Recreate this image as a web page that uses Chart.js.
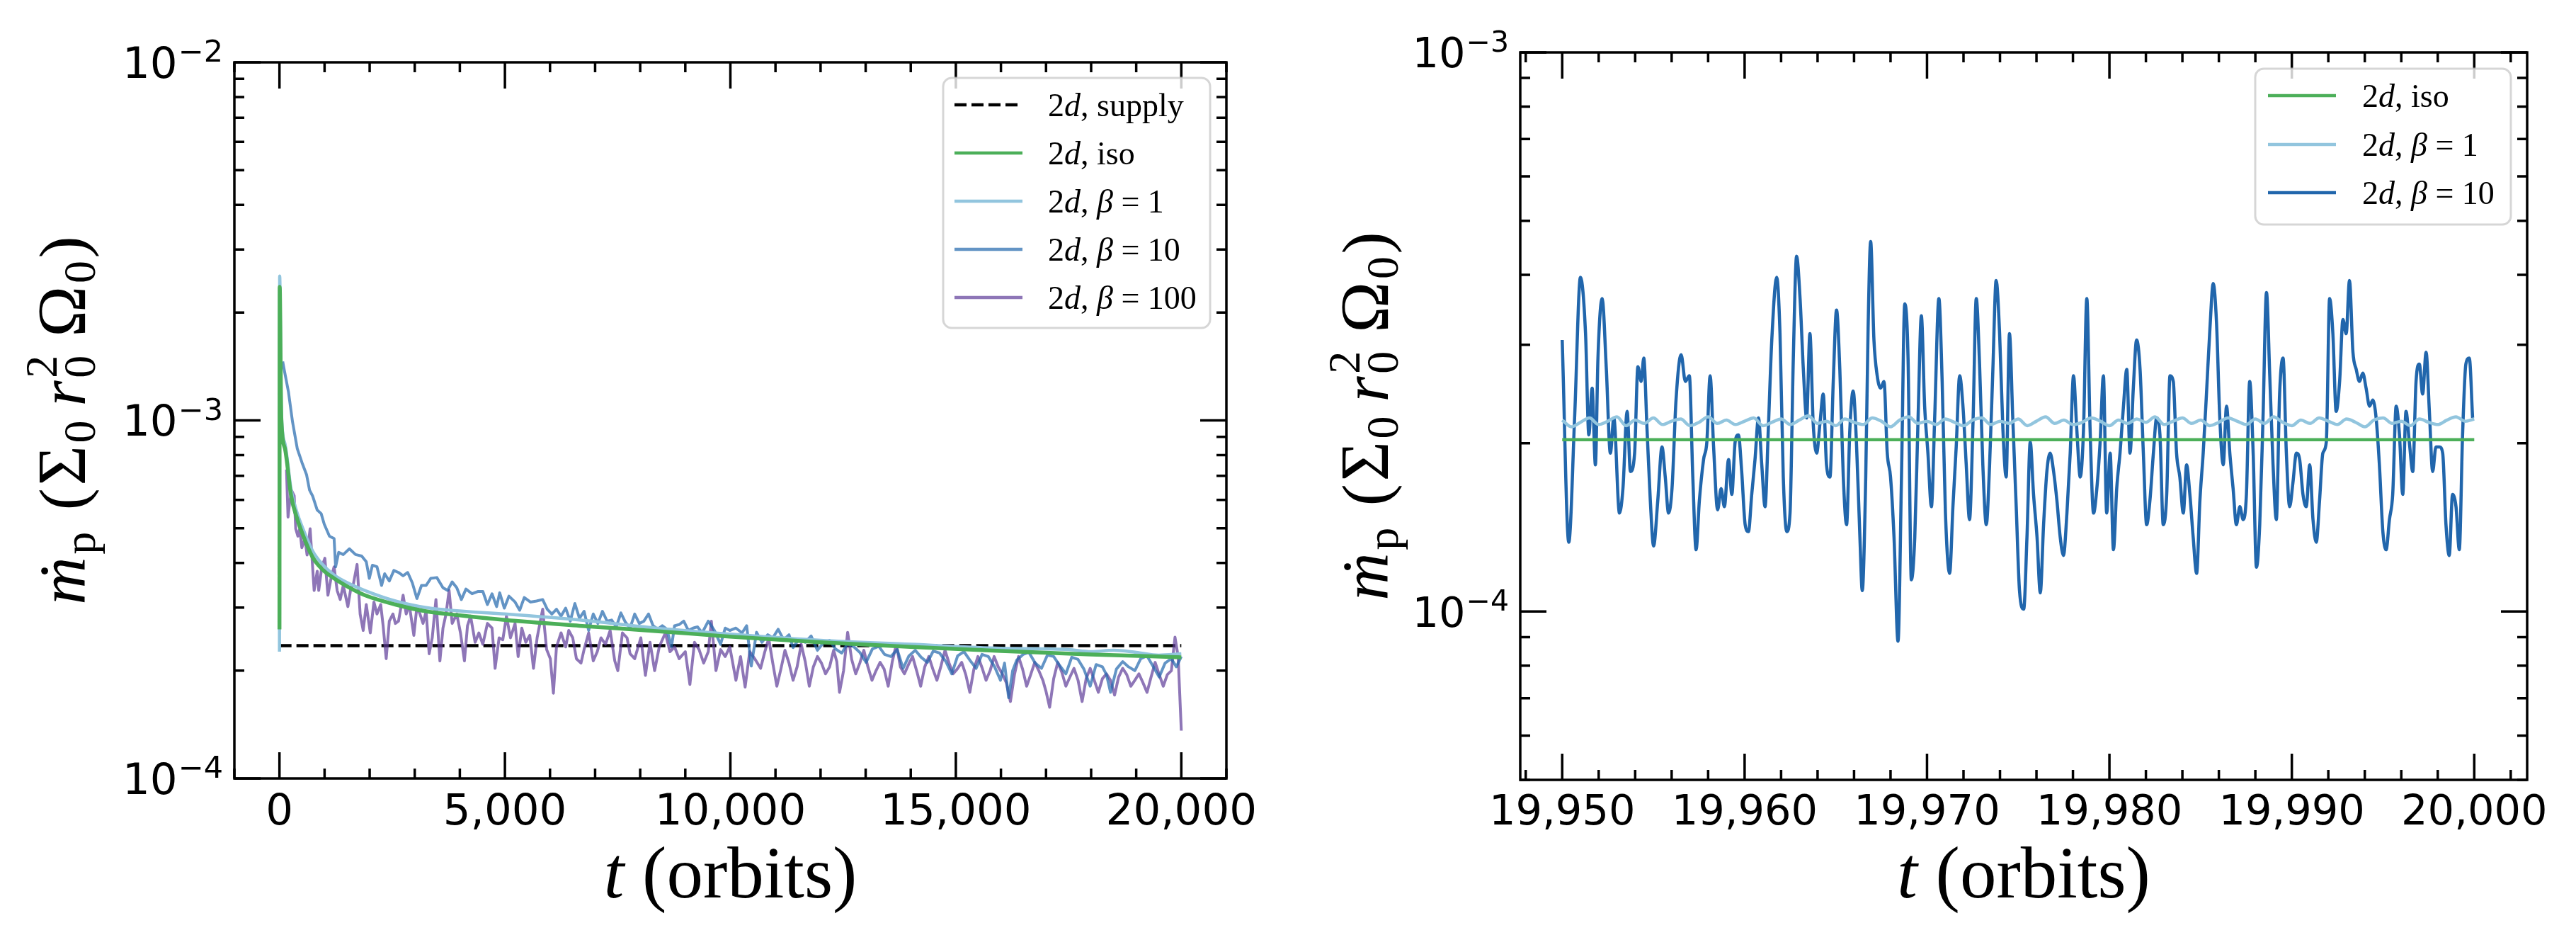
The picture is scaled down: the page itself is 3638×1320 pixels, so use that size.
<!DOCTYPE html>
<html>
<head>
<meta charset="utf-8">
<script src="https://cdn.jsdelivr.net/npm/chart.js@4.4.1/dist/chart.umd.min.js"></script>
<style>
  html, body { margin: 0; padding: 0; background: #fff; }
  #wrap { position: relative; width: 3638px; height: 1320px; }
  canvas { position: absolute; top: 0; }
  #left { left: 0; }
  #right { left: 1819px; }
</style>
</head>
<body>
<div id="wrap">
  <canvas id="left" width="1819" height="1320"></canvas>
  <canvas id="right" width="1819" height="1320"></canvas>
</div>
<script>
// values are in units of 1e-4 (Sigma_0 r_0^2 Omega_0)
var UNIT = 1e-4;

// ---------- left panel: full run ----------
var tSupply = [0, 20000];
var supplyE4 = [2.35, 2.35];

var tIso = [0, 5, 40, 122, 259, 395, 530, 735, 939, 1211, 1551, 1891, 2571, 3252, 3932, 5000, 6653, 8354, 9987, 12000, 14000, 16000, 18000, 20000];
var isoE4 = [2.61, 23.6, 10.2, 8.34, 6.15, 5.30, 4.75, 4.15, 3.85, 3.62, 3.41, 3.25, 3.06, 2.93, 2.86, 2.77, 2.67, 2.58, 2.49, 2.40, 2.33, 2.27, 2.22, 2.18];

var tBeta1 = [0, 5, 40, 122, 259, 395, 530, 735, 939, 1211, 1551, 1891, 2571, 3252, 3932, 5000, 6653, 8354, 9987, 12000, 14000, 16000, 17500, 18000, 18500, 19000, 19500, 20000];
var beta1E4 = [2.26, 25.3, 10.6, 8.6, 6.4, 5.5, 4.95, 4.32, 3.98, 3.70, 3.50, 3.35, 3.13, 3.00, 2.94, 2.88, 2.77, 2.63, 2.53, 2.43, 2.37, 2.31, 2.29, 2.26, 2.28, 2.25, 2.21, 2.23];

var tBeta10 = [72, 108, 200, 290, 395, 500, 600, 667, 735, 837, 925, 993, 1109, 1211, 1245, 1313, 1415, 1551, 1687, 1823,
  1925, 1993, 2061, 2163, 2265, 2333, 2436, 2537, 2640, 2742, 2844, 2946, 3048, 3150, 3252, 3354, 3490, 3626, 3728, 3830,
  3932, 4034, 4136, 4272, 4408, 4510, 4612, 4714, 4816, 4884, 4987, 5089, 5225, 5327, 5429, 5565, 5701, 5837, 5939, 6041,
  6143, 6245, 6347, 6449, 6551, 6653, 6755, 6857, 6959, 7061, 7163, 7265, 7367, 7469, 7571, 7673, 7775, 7878, 7980, 8082,
  8184, 8286, 8388, 8490, 8592, 8694, 8762, 8864, 8966, 9068, 9170, 9272, 9374, 9510, 9646, 9783, 9885, 9987, 10123, 10259,
  10361, 10463, 10580, 10700, 10830, 10940, 11060, 11180, 11300, 11390, 11520, 11660, 11790, 11930, 12060, 12200, 12330, 12470, 12600, 12740,
  12870, 13010, 13150, 13290, 13420, 13560, 13700, 13830, 13960, 14100, 14230, 14370, 14500, 14640, 14780, 14910, 15040, 15180, 15310, 15450,
  15580, 15720, 15860, 15990, 16080, 16170, 16260, 16350, 16490, 16620, 16760, 16900, 17030, 17170, 17300, 17440, 17570, 17710, 17840, 17980,
  18110, 18250, 18340, 18430, 18560, 18700, 18830, 18970, 19100, 19240, 19370, 19510, 19640, 19780, 19890, 20000];
var beta10E4 = [14.6, 13.8, 12.0, 9.9, 8.34, 7.62, 7.06, 6.39, 6.15, 5.62, 5.49, 5.13, 4.75, 4.68, 3.90, 4.28, 4.22, 4.38, 4.22, 4.18,
  4.03, 3.62, 3.94, 3.90, 3.46, 3.73, 3.56, 3.81, 3.76, 3.68, 3.76, 3.52, 3.18, 3.46, 3.46, 3.62, 3.64, 3.41, 3.35, 3.54,
  3.41, 3.16, 3.38, 3.28, 3.33, 3.33, 3.06, 3.28, 3.02, 3.30, 2.99, 3.23, 3.11, 2.95, 3.20, 3.11, 3.13, 3.16, 2.97, 2.88,
  2.97, 2.84, 2.99, 2.75, 3.08, 2.80, 2.93, 2.59, 2.88, 2.71, 2.93, 2.75, 2.77, 2.65, 2.90, 2.73, 2.63, 2.88, 2.71, 2.75,
  2.88, 2.67, 2.61, 2.67, 2.61, 2.33, 2.67, 2.69, 2.75, 2.59, 2.63, 2.65, 2.55, 2.75, 2.59, 2.37, 2.63, 2.59, 2.63, 2.55,
  2.67, 2.06, 2.56, 2.40, 2.52, 2.47, 2.61, 2.44, 2.52, 2.32, 2.45, 2.40, 2.50, 2.28, 2.39, 2.43, 2.30, 2.24, 2.38, 2.33,
  2.25, 2.11, 2.30, 2.34, 2.22, 2.19, 2.29, 2.03, 2.20, 2.28, 2.18, 2.11, 2.27, 2.24, 2.12, 1.96, 2.20, 2.26, 2.14, 2.03,
  2.22, 2.19, 2.05, 1.88, 2.10, 1.68, 2.00, 2.14, 2.22, 2.25, 2.10, 2.03, 2.21, 2.19, 2.07, 1.96, 2.18, 2.15, 2.02, 1.81,
  2.08, 2.05, 1.95, 1.74, 2.02, 2.12, 2.05, 2.00, 2.16, 2.20, 2.06, 1.92, 2.10, 2.16, 2.05, 2.19];

var tBeta100 = [156, 190, 224, 272, 327, 361, 408, 449, 497, 565, 612, 680, 721, 769, 837, 871, 939, 1007, 1075, 1143,
  1211, 1279, 1347, 1415, 1517, 1585, 1633, 1721, 1789, 1857, 1925, 2014, 2095, 2163, 2245, 2299, 2367, 2436, 2517, 2571,
  2640, 2742, 2810, 2878, 2980, 3048, 3116, 3184, 3252, 3320, 3388, 3470, 3558, 3626, 3694, 3762, 3830, 3932, 4014, 4102,
  4170, 4238, 4340, 4422, 4510, 4612, 4714, 4782, 4871, 4953, 5034, 5123, 5225, 5293, 5374, 5463, 5551, 5633, 5714, 5837,
  5925, 6007, 6075, 6143, 6245, 6347, 6415, 6504, 6585, 6687, 6755, 6857, 6959, 7048, 7130, 7231, 7333, 7436, 7504, 7606,
  7708, 7775, 7878, 8014, 8116, 8218, 8320, 8422, 8558, 8660, 8762, 8864, 9000, 9102, 9204, 9306, 9408, 9510, 9578, 9680,
  9783, 9885, 9987, 10123, 10225, 10327, 10429, 10550, 10670, 10760, 10850, 10940, 11030, 11120, 11210, 11300, 11390, 11480, 11570, 11660,
  11750, 11840, 11930, 12020, 12110, 12200, 12290, 12360, 12420, 12510, 12600, 12690, 12780, 12870, 12960, 13050, 13140, 13230, 13320, 13410,
  13500, 13590, 13680, 13770, 13860, 13950, 14040, 14130, 14220, 14310, 14400, 14490, 14580, 14670, 14760, 14850, 14940, 15030, 15130, 15220,
  15310, 15400, 15490, 15580, 15670, 15760, 15850, 15940, 16030, 16120, 16210, 16300, 16390, 16480, 16570, 16660, 16750, 16840, 16930, 17000,
  17080, 17170, 17260, 17350, 17440, 17530, 17620, 17710, 17800, 17890, 17980, 18070, 18160, 18250, 18340, 18430, 18520, 18610, 18700, 18790,
  18880, 18970, 19060, 19150, 19240, 19330, 19420, 19510, 19600, 19690, 19780, 19860, 19930, 20000];
var beta100E4 = [7.29, 5.37, 5.88, 6.36, 6.15, 4.98, 4.75, 4.98, 4.41, 4.68, 4.21, 4.98, 4.15, 3.35, 3.79, 3.35, 3.90, 4.12, 3.25, 3.62,
  3.90, 3.35, 3.16, 3.46, 3.02, 3.41, 3.46, 3.96, 2.88, 2.59, 3.06, 2.55, 3.11, 2.88, 3.06, 2.67, 2.16, 2.75, 2.88, 2.71,
  2.75, 3.25, 2.88, 3.06, 2.51, 3.02, 2.88, 2.71, 2.93, 2.23, 2.47, 3.16, 2.13, 2.63, 2.88, 3.35, 2.71, 2.88, 2.55, 2.13,
  2.67, 2.84, 2.40, 2.55, 2.37, 2.71, 2.63, 2.03, 2.47, 2.44, 2.84, 2.47, 2.71, 2.19, 2.63, 2.40, 2.51, 2.03, 2.47, 2.97,
  2.29, 2.16, 1.73, 2.33, 2.55, 2.33, 2.59, 2.47, 2.16, 2.10, 2.29, 2.55, 2.13, 2.26, 2.47, 2.37, 2.59, 2.13, 2.00, 2.55,
  2.47, 2.23, 2.16, 2.47, 1.94, 2.40, 2.00, 2.33, 2.55, 2.26, 2.33, 2.16, 2.26, 1.83, 2.40, 2.29, 2.10, 2.26, 2.75, 2.00,
  2.29, 2.19, 2.33, 1.88, 2.19, 1.80, 2.26, 2.15, 2.03, 2.25, 2.46, 2.10, 1.81, 2.02, 2.28, 2.10, 1.88, 2.05, 2.37, 2.12,
  1.81, 2.05, 2.19, 2.10, 1.96, 2.05, 2.28, 2.12, 1.74, 2.00, 2.56, 2.15, 1.96, 2.10, 2.28, 2.05, 1.88, 2.00, 2.11, 2.02,
  1.81, 2.12, 2.37, 2.05, 1.96, 2.08, 2.19, 2.00, 1.81, 2.05, 2.19, 2.02, 1.88, 2.06, 2.28, 2.10, 1.96, 2.02, 2.11, 1.95,
  1.74, 2.02, 2.19, 2.04, 1.88, 2.00, 2.19, 2.05, 1.96, 1.85, 1.64, 1.95, 2.19, 2.02, 1.81, 1.95, 2.11, 2.00, 1.88, 1.75,
  1.58, 1.90, 2.11, 1.98, 1.81, 1.92, 2.03, 1.88, 1.64, 1.90, 2.03, 1.88, 1.74, 1.90, 1.96, 1.88, 1.71, 1.92, 2.03, 1.95,
  1.81, 1.88, 1.96, 1.85, 1.74, 1.92, 2.11, 1.95, 1.81, 1.95, 2.00, 2.48, 2.19, 1.36];

// ---------- right panel: last 50 orbits ----------
var tIsoR = [19950, 20000];
var isoRE4 = [2.03, 2.03];

var tBeta1R = [19950, 19950.5, 19951, 19951.5, 19952, 19952.5, 19953, 19953.5, 19954, 19954.5,
  19955, 19955.5, 19956, 19956.5, 19957, 19957.5, 19958, 19958.5, 19959, 19959.5,
  19960, 19960.5, 19961, 19961.5, 19962, 19962.5, 19963, 19963.5, 19964, 19964.5,
  19965, 19965.5, 19966, 19966.5, 19967, 19967.5, 19968, 19968.5, 19969, 19969.5,
  19970, 19970.5, 19971, 19971.5, 19972, 19972.5, 19973, 19973.5, 19974, 19974.5,
  19975, 19975.5, 19976, 19976.5, 19977, 19977.5, 19978, 19978.5, 19979, 19979.5,
  19980, 19980.5, 19981, 19981.5, 19982, 19982.5, 19983, 19983.5, 19984, 19984.5,
  19985, 19985.5, 19986, 19986.5, 19987, 19987.5, 19988, 19988.5, 19989, 19989.5,
  19990, 19990.5, 19991, 19991.5, 19992, 19992.5, 19993, 19993.5, 19994, 19994.5,
  19995, 19995.5, 19996, 19996.5, 19997, 19997.5, 19998, 19998.5, 19999, 19999.5,
  20000];
var beta1RE4 = [2.20, 2.14, 2.18, 2.22, 2.16, 2.19, 2.23, 2.15, 2.20, 2.17,
  2.22, 2.16, 2.19, 2.21, 2.15, 2.18, 2.23, 2.17, 2.20, 2.16,
  2.19, 2.22, 2.15, 2.18, 2.21, 2.16, 2.20, 2.24, 2.17, 2.19,
  2.15, 2.21, 2.18, 2.16, 2.22, 2.19, 2.14, 2.20, 2.23, 2.17,
  2.19, 2.16, 2.21, 2.18, 2.15, 2.20, 2.22, 2.16, 2.19, 2.17,
  2.21, 2.15, 2.19, 2.23, 2.17, 2.20, 2.16, 2.18, 2.22, 2.19,
  2.15, 2.20, 2.17, 2.21, 2.18, 2.23, 2.16, 2.19, 2.22, 2.17,
  2.20, 2.15, 2.18, 2.22, 2.19, 2.16, 2.21, 2.17, 2.23, 2.18,
  2.15, 2.20, 2.17, 2.22, 2.19, 2.16, 2.21, 2.18, 2.14, 2.20,
  2.22, 2.17, 2.19, 2.15, 2.21, 2.18, 2.16, 2.20, 2.23, 2.19,
  2.21];

var tBeta10R = [19950.00, 19950.36, 19950.68, 19951.00, 19951.28, 19951.46, 19951.64, 19951.82, 19951.96, 19952.19,
  19952.42, 19952.64, 19952.83, 19953.14, 19953.33, 19953.56, 19953.74, 19953.97, 19954.15, 19954.33,
  19954.47, 19954.65, 19954.83, 19955.01, 19955.24, 19955.47, 19955.65, 19955.83, 19956.02, 19956.24,
  19956.52, 19956.75, 19956.97, 19957.16, 19957.34, 19957.52, 19957.75, 19957.93, 19958.11, 19958.30,
  19958.52, 19958.71, 19958.89, 19959.12, 19959.30, 19959.48, 19959.66, 19959.84, 19960.03, 19960.21,
  19960.39, 19960.57, 19960.76, 19960.94, 19961.12, 19961.30, 19961.49, 19961.76, 19961.94, 19962.12,
  19962.31, 19962.49, 19962.67, 19962.85, 19963.04, 19963.22, 19963.40, 19963.58, 19963.76, 19963.95,
  19964.13, 19964.31, 19964.49, 19964.68, 19964.86, 19965.04, 19965.22, 19965.41, 19965.59, 19965.77,
  19965.95, 19966.13, 19966.32, 19966.45, 19966.64, 19966.77, 19966.91, 19967.09, 19967.27, 19967.46,
  19967.64, 19967.82, 19968.00, 19968.19, 19968.41, 19968.60, 19968.78, 19968.96, 19969.14, 19969.33,
  19969.51, 19969.69, 19969.87, 19970.05, 19970.24, 19970.42, 19970.65, 19970.83, 19971.01, 19971.24,
  19971.42, 19971.60, 19971.79, 19971.97, 19972.15, 19972.33, 19972.52, 19972.70, 19972.88, 19973.06,
  19973.25, 19973.43, 19973.61, 19973.79, 19973.98, 19974.16, 19974.34, 19974.52, 19974.70, 19974.89,
  19975.07, 19975.30, 19975.48, 19975.66, 19975.84, 19976.03, 19976.21, 19976.39, 19976.57, 19976.75,
  19976.94, 19977.12, 19977.30, 19977.48, 19977.67, 19977.85, 19978.03, 19978.21, 19978.40, 19978.58,
  19978.76, 19978.94, 19979.13, 19979.31, 19979.49, 19979.67, 19979.85, 19980.04, 19980.22, 19980.40,
  19980.58, 19980.77, 19980.95, 19981.13, 19981.31, 19981.49, 19981.68, 19981.86, 19982.04, 19982.22,
  19982.41, 19982.59, 19982.77, 19982.95, 19983.14, 19983.32, 19983.50, 19983.68, 19983.86, 19984.05,
  19984.23, 19984.41, 19984.59, 19984.78, 19984.96, 19985.14, 19985.32, 19985.51, 19985.69, 19985.87,
  19986.05, 19986.24, 19986.42, 19986.60, 19986.78, 19986.96, 19987.15, 19987.33, 19987.51, 19987.69,
  19987.88, 19988.06, 19988.24, 19988.42, 19988.61, 19988.79, 19988.97, 19989.15, 19989.33, 19989.52,
  19989.70, 19989.88, 19990.06, 19990.25, 19990.43, 19990.61, 19990.79, 19990.98, 19991.16, 19991.34,
  19991.52, 19991.70, 19991.89, 19992.07, 19992.25, 19992.43, 19992.62, 19992.80, 19992.98, 19993.16,
  19993.35, 19993.53, 19993.71, 19993.89, 19994.07, 19994.26, 19994.44, 19994.62, 19994.80, 19994.99,
  19995.17, 19995.35, 19995.53, 19995.72, 19995.90, 19996.08, 19996.26, 19996.44, 19996.63, 19996.81,
  19996.99, 19997.17, 19997.36, 19997.54, 19997.72, 19997.90, 19998.09, 19998.27, 19998.45, 19998.63,
  19998.81, 19999.00, 19999.18, 19999.36, 19999.54, 19999.73, 19999.91];
var beta10RE4 = [3.06, 1.33, 2.22, 3.96, 3.14, 2.07, 2.51, 1.83, 2.84, 3.63,
  2.71, 1.92, 2.22, 1.50, 1.66, 2.28, 1.78, 1.92, 2.74, 2.58,
  2.84, 2.12, 1.58, 1.31, 1.58, 1.97, 1.74, 1.50, 1.66, 2.39,
  2.88, 2.58, 2.64, 1.74, 1.29, 1.58, 1.87, 2.01, 2.64, 1.97,
  1.52, 1.66, 1.54, 1.87, 1.62, 2.01, 2.07, 1.78, 1.43, 1.39,
  1.62, 1.87, 2.22, 1.83, 1.54, 2.12, 3.06, 3.96, 3.14, 1.74,
  1.39, 1.50, 2.84, 4.32, 3.63, 2.71, 2.22, 3.14, 2.17, 1.92,
  2.17, 2.45, 1.83, 1.74, 2.58, 3.46, 2.71, 1.74, 1.43, 2.12,
  2.48, 2.01, 1.36, 1.09, 1.74, 3.21, 4.59, 3.06, 2.64, 2.51,
  2.58, 1.92, 1.74, 1.36, 0.885, 1.74, 3.55, 2.84, 1.14, 1.36,
  2.22, 3.38, 2.33, 1.92, 1.54, 2.22, 3.63, 2.58, 1.50, 1.17,
  1.54, 1.97, 2.64, 2.33, 1.83, 1.46, 2.17, 3.63, 2.77, 1.83,
  1.43, 1.83, 2.71, 3.91, 3.14, 2.12, 1.74, 3.14, 2.22, 1.54,
  1.09, 1.01, 1.36, 2.01, 1.62, 1.36, 1.08, 1.43, 1.78, 1.92,
  1.78, 1.58, 1.36, 1.26, 1.50, 1.92, 2.64, 2.12, 1.74, 2.12,
  3.63, 2.12, 1.50, 1.66, 2.01, 2.64, 1.50, 1.92, 1.29, 1.66,
  1.92, 2.33, 2.71, 1.92, 2.51, 3.06, 2.71, 1.92, 1.43, 1.58,
  1.92, 2.22, 2.07, 1.43, 1.62, 2.64, 2.58, 1.92, 1.74, 1.50,
  1.83, 1.62, 1.36, 1.17, 1.58, 1.92, 2.45, 3.21, 3.86, 3.29,
  2.22, 1.83, 2.33, 1.92, 1.66, 1.43, 1.54, 1.46, 1.62, 2.58,
  1.92, 1.20, 1.43, 2.22, 3.72, 2.64, 1.83, 1.46, 2.45, 2.84,
  1.92, 1.54, 1.70, 1.92, 1.87, 1.62, 1.54, 1.83, 1.46, 1.33,
  1.58, 1.92, 2.01, 3.63, 3.14, 2.28, 2.58, 3.33, 3.14, 3.91,
  2.91, 2.71, 2.58, 2.67, 2.51, 2.33, 2.39, 2.22, 1.83, 1.39,
  1.29, 1.46, 1.62, 2.33, 2.07, 1.62, 2.28, 2.01, 1.78, 2.58,
  2.77, 2.45, 2.91, 2.28, 1.78, 1.97, 1.97, 1.92, 1.43, 1.26,
  1.62, 1.54, 1.29, 2.07, 2.77, 2.84, 2.22];

// ---------- ticks ----------
var xMajorL = [0, 5000, 10000, 15000, 20000];
var xLabelsL = ['0', '5,000', '10,000', '15,000', '20,000'];
var xMinorL = [-1000, 1000, 2000, 3000, 4000, 6000, 7000, 8000, 9000, 11000, 12000, 13000, 14000, 16000, 17000, 18000, 19000, 21000];
var yMajorL = [1e-4, 1e-3, 1e-2];
var yExpL = ['\u22124', '\u22123', '\u22122'];
var yMinorL = [2e-4, 3e-4, 4e-4, 5e-4, 6e-4, 7e-4, 8e-4, 9e-4, 2e-3, 3e-3, 4e-3, 5e-3, 6e-3, 7e-3, 8e-3, 9e-3];

var xMajorR = [19950, 19960, 19970, 19980, 19990, 20000];
var xLabelsR = ['19,950', '19,960', '19,970', '19,980', '19,990', '20,000'];
var xMinorR = [19948, 19952, 19954, 19956, 19958, 19962, 19964, 19966, 19968, 19972, 19974, 19976, 19978,
  19982, 19984, 19986, 19988, 19992, 19994, 19996, 19998, 20002];
var yMajorR = [1e-4, 1e-3];
var yExpR = ['\u22124', '\u22123'];
var yMinorR = [5e-5, 6e-5, 7e-5, 8e-5, 9e-5, 2e-4, 3e-4, 4e-4, 5e-4, 6e-4, 7e-4, 8e-4, 9e-4];

function pts(ts, vs) {
  return ts.map(function (t, i) { return { x: t, y: vs[i] * UNIT }; });
}

var SERIF = '"Liberation Serif", "DejaVu Serif", serif';
var LR = '46px ' + SERIF, LI = 'italic 46px ' + SERIF;
function betaLabel(b) {
  return [['2', LR], ['d', LI], [', ', LR], ['\u03b2', LI], [' = ' + b, LR]];
}

var panels = {
  left: {
    xMajor: xMajorL, xLabels: xLabelsL, xMinor: xMinorL,
    yMajor: yMajorL, yExp: yExpL, yMinor: yMinorL,
    tickFont: 61, labelBase: 1164, yLabelX: 120, xTitleBase: 1267,
    legend: { box: [1332, 110, 1709, 463], hx: [1348, 1444], tx: 1480, rows: [148, 216, 284, 352, 420],
      items: [
        { segs: [['2', LR], ['d', LI], [', supply', LR]], color: '#000000', dash: [17, 7], w: 4.5 },
        { segs: [['2', LR], ['d', LI], [', iso', LR]], color: '#4caf59', w: 4.5 },
        { segs: betaLabel('1'), color: '#92c5de', w: 4.5 },
        { segs: betaLabel('10'), color: 'rgba(33,102,172,0.7)', w: 4.5 },
        { segs: betaLabel('100'), color: 'rgba(94,60,153,0.7)', w: 4.5 }
      ] }
  },
  right: {
    xMajor: xMajorR, xLabels: xLabelsR, xMinor: xMinorR,
    yMajor: yMajorR, yExp: yExpR, yMinor: yMinorR,
    tickFont: 59, labelBase: 1164, yLabelX: 141, xTitleBase: 1267,
    legend: { box: [3185 - 1819, 97, 3546 - 1819, 317], hx: [3203 - 1819, 3299 - 1819], tx: 3336 - 1819, rows: [135, 204, 272],
      items: [
        { segs: [['2', LR], ['d', LI], [', iso', LR]], color: '#4caf59', w: 4.5 },
        { segs: betaLabel('1'), color: '#92c5de', w: 4.5 },
        { segs: betaLabel('10'), color: '#2166ac', w: 4.5 }
      ] }
  }
};

// draws a run of text pieces [text, font, dy, flag]; optional target width spreads the gaps
function drawRich(ctx, segs, x, y, centered, target) {
  var total = 0, n = 0;
  segs.forEach(function (s) {
    ctx.font = s[1];
    if (s[3] !== 'stack') { total += ctx.measureText(s[0]).width; n++; }
  });
  var extra = target && n > 1 ? Math.max(0, (target - total) / (n - 1)) : 0;
  var cx = centered ? x - (total + extra * (n - 1)) / 2 : x;
  segs.forEach(function (s) {
    ctx.font = s[1];
    var w = ctx.measureText(s[0]).width;
    ctx.textAlign = 'left';
    ctx.fillText(s[0], cx, y + (s[2] || 0));
    if (s[3] === 'dot') {
      ctx.textAlign = 'center';
      ctx.fillText('\u02d9', cx + w / 2 + 8, y);
    }
    if (s[3] !== 'stack') cx += w + extra;
  });
}

var M = 'italic 93px ' + SERIF, N = '93px ' + SERIF, S = '64px ' + SERIF, G = '97px ' + SERIF;
var XM = 'italic 103px ' + SERIF, XN = '103px ' + SERIF;
var yTitle = [['m', M, 0, 'dot'], ['p', S, 14], [' ', N], ['(', N], ['\u03a3', G], ['0', S, 14], ['\u2009', S],
  ['r', M], ['2', S, -40, 'stack'], ['0', S, 14], ['\u2009', N], ['\u03a9', G], ['0', S, 14], [')', N]];
var xTitle = [['t', XM], [' (orbits)', XN]];

var mplAxes = {
  id: 'mplAxes',
  afterDatasetsDraw: function (chart) {
    var p = panels[chart.canvas.id];
    var ctx = chart.ctx, a = chart.chartArea, xs = chart.scales.x, ys = chart.scales.y;
    ctx.save();
    ctx.strokeStyle = '#000';
    ctx.fillStyle = '#000';
    ctx.lineCap = 'butt';
    ctx.lineWidth = 3.5;
    ctx.beginPath();
    function xt(v, len) {
      var px = xs.getPixelForValue(v);
      if (px < a.left - 1 || px > a.right + 1) return;
      ctx.moveTo(px, a.bottom); ctx.lineTo(px, a.bottom - len);
      ctx.moveTo(px, a.top); ctx.lineTo(px, a.top + len);
    }
    function yt(v, len) {
      var py = ys.getPixelForValue(v);
      if (py < a.top - 1 || py > a.bottom + 1) return;
      ctx.moveTo(a.left, py); ctx.lineTo(a.left + len, py);
      ctx.moveTo(a.right, py); ctx.lineTo(a.right - len, py);
    }
    p.xMajor.forEach(function (v) { xt(v, 37); });
    p.xMinor.forEach(function (v) { xt(v, 14); });
    p.yMajor.forEach(function (v) { yt(v, 37); });
    p.yMinor.forEach(function (v) { yt(v, 14); });
    ctx.stroke();
    ctx.strokeRect(a.left, a.top, a.right - a.left, a.bottom - a.top);

    // tick labels
    var f = p.tickFont;
    ctx.textBaseline = 'alphabetic';
    ctx.textAlign = 'center';
    ctx.font = f + 'px "DejaVu Sans"';
    p.xMajor.forEach(function (v, i) {
      ctx.fillText(p.xLabels[i], xs.getPixelForValue(v), p.labelBase);
    });
    p.yMajor.forEach(function (v, i) {
      var py = ys.getPixelForValue(v);
      ctx.font = f + 'px "DejaVu Sans"';
      var w1 = ctx.measureText('10').width;
      ctx.font = Math.round(f * 0.7) + 'px "DejaVu Sans"';
      var w2 = ctx.measureText(p.yExp[i]).width;
      var x0 = a.left - 17 - w2 - w1;
      ctx.textAlign = 'left';
      ctx.font = f + 'px "DejaVu Sans"';
      ctx.fillText('10', x0, py + 0.36 * f);
      ctx.font = Math.round(f * 0.7) + 'px "DejaVu Sans"';
      ctx.fillText(p.yExp[i], x0 + w1 + 1, py - 1);
    });

    // axis titles
    drawRich(ctx, xTitle, (a.left + a.right) / 2, p.xTitleBase, true);
    ctx.save();
    ctx.translate(p.yLabelX, (a.top + a.bottom) / 2);
    ctx.rotate(-Math.PI / 2);
    drawRich(ctx, yTitle, 0, 0, true, 520);
    ctx.restore();

    // legend
    var lg = p.legend, b = lg.box, r = 12;
    ctx.beginPath();
    ctx.moveTo(b[0] + r, b[1]);
    ctx.arcTo(b[2], b[1], b[2], b[3], r);
    ctx.arcTo(b[2], b[3], b[0], b[3], r);
    ctx.arcTo(b[0], b[3], b[0], b[1], r);
    ctx.arcTo(b[0], b[1], b[2], b[1], r);
    ctx.closePath();
    ctx.fillStyle = 'rgba(255,255,255,0.8)';
    ctx.fill();
    ctx.strokeStyle = 'rgba(204,204,204,0.8)';
    ctx.lineWidth = 3;
    ctx.stroke();
    lg.items.forEach(function (it, i) {
      var yy = lg.rows[i];
      ctx.beginPath();
      ctx.setLineDash(it.dash || []);
      ctx.strokeStyle = it.color;
      ctx.lineWidth = it.w;
      ctx.moveTo(lg.hx[0], yy);
      ctx.lineTo(lg.hx[1], yy);
      ctx.stroke();
      ctx.setLineDash([]);
      ctx.fillStyle = '#000';
      drawRich(ctx, it.segs, lg.tx, yy + 16, false);
    });
    ctx.restore();
  }
};

function line(data, color, width, dash, smooth) {
  var ds = {
    data: data, borderColor: color, borderWidth: width, borderDash: dash || [],
    pointRadius: 0, fill: false, tension: 0, borderJoinStyle: 'round', borderCapStyle: 'butt'
  };
  if (smooth) ds.cubicInterpolationMode = 'monotone';
  return ds;
}

function baseOptions(pad, xmin, xmax, ymin, ymax) {
  return {
    responsive: false, animation: false, devicePixelRatio: 1,
    layout: { padding: pad },
    scales: {
      x: { type: 'linear', min: xmin, max: xmax, display: false },
      y: { type: 'logarithmic', min: ymin, max: ymax, display: false }
    },
    plugins: { legend: { display: false }, tooltip: { enabled: false } }
  };
}

// first dataset ends up on top
new Chart(document.getElementById('left'), {
  type: 'line',
  data: {
    datasets: [
      line(pts(tIso, isoE4), '#4caf59', 5.5, null, true),
      line(pts(tBeta1, beta1E4), '#92c5de', 4.5, null, true),
      line(pts(tBeta10, beta10E4), 'rgba(33,102,172,0.7)', 4),
      line(pts(tBeta100, beta100E4), 'rgba(94,60,153,0.7)', 4),
      line(pts(tSupply, supplyE4), '#000000', 4.5, [17, 7])
    ]
  },
  options: baseOptions({ left: 331, top: 88, right: 87, bottom: 221 }, -1000, 21000, 1e-4, 1e-2),
  plugins: [mplAxes]
});

new Chart(document.getElementById('right'), {
  type: 'line',
  data: {
    datasets: [
      line(pts(tIsoR, isoRE4), '#4caf59', 4.5),
      line(pts(tBeta1R, beta1RE4), '#92c5de', 4.5, null, true),
      line(pts(tBeta10R, beta10RE4), '#2166ac', 4.5, null, true)
    ]
  },
  options: baseOptions({ left: 328, top: 74, right: 69, bottom: 219 }, 19947.7, 20002.9, 5e-5, 1e-3),
  plugins: [mplAxes]
});
</script>
</body>
</html>
